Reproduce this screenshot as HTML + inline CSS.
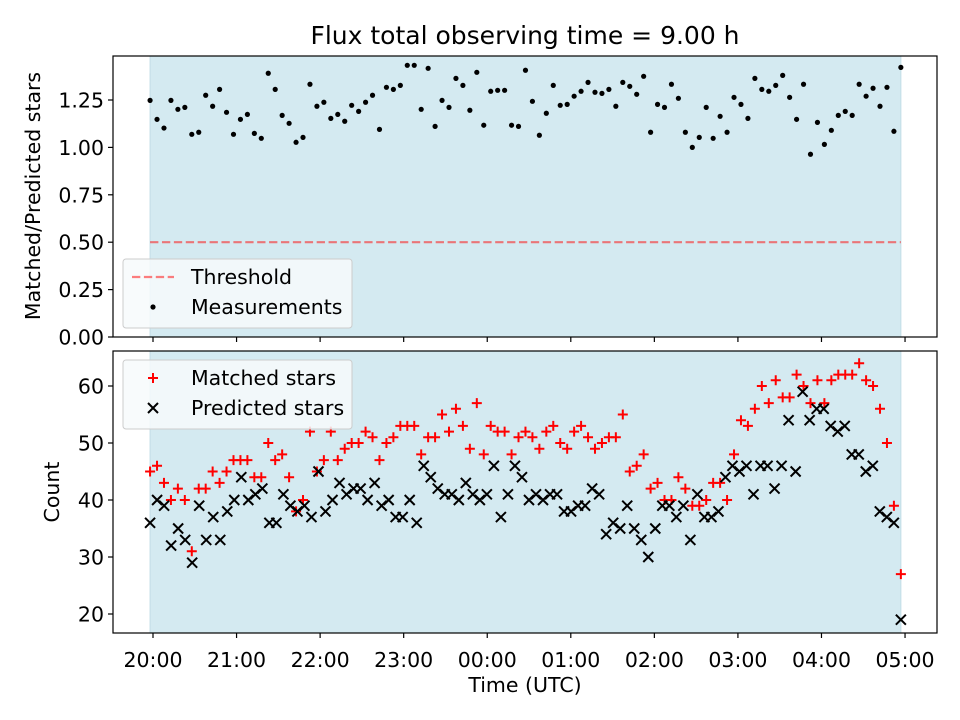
<!DOCTYPE html>
<html><head><meta charset="utf-8"><style>
body{margin:0;background:#fff;}
svg{display:block;font-family:"DejaVu Sans","Liberation Sans",sans-serif;}
</style></head><body>
<svg id="chart" width="960" height="720" viewBox="0 0 960 720">
<rect x="0" y="0" width="960" height="720" fill="#fff"/>
<g id="topPanel"></g>
<g id="botPanel"></g>
<text x="525" y="44" font-size="25" text-anchor="middle">Flux total observing time = 9.00 h</text>
<text transform="translate(40,196) rotate(-90)" font-size="20.5" text-anchor="middle">Matched/Predicted stars</text>
<text transform="translate(59,492) rotate(-90)" font-size="20.5" text-anchor="middle">Count</text>
<text x="525" y="692" font-size="20.5" text-anchor="middle">Time (UTC)</text>
</svg>
<script>
const ratioValues=[1.248,1.148,1.102,1.248,1.201,1.211,1.069,1.080,1.275,1.217,1.306,1.185,1.069,1.148,1.174,1.074,1.048,1.391,1.306,1.169,1.127,1.027,1.053,1.333,1.217,1.238,1.153,1.174,1.138,1.222,1.190,1.238,1.275,1.095,1.317,1.306,1.327,1.433,1.433,1.201,1.417,1.111,1.248,1.211,1.364,1.327,1.196,1.396,1.117,1.296,1.301,1.301,1.117,1.111,1.407,1.243,1.064,1.180,1.327,1.222,1.227,1.270,1.296,1.343,1.291,1.285,1.306,1.217,1.343,1.322,1.280,1.375,1.080,1.227,1.211,1.333,1.259,1.080,1.000,1.053,1.211,1.048,1.164,1.080,1.264,1.227,1.153,1.364,1.306,1.296,1.327,1.380,1.264,1.148,1.333,0.964,1.132,1.016,1.090,1.169,1.190,1.169,1.333,1.270,1.312,1.217,1.317,1.085,1.422];
const matchedValues=[45,46,43,40,42,40,31,42,42,45,43,45,47,47,47,44,44,50,47,48,44,38,40,52,45,47,52,47,49,50,50,52,51,47,50,51,53,53,53,48,51,51,55,52,56,53,49,57,48,53,52,52,48,51,52,51,49,52,53,50,49,52,53,51,49,50,51,51,55,45,46,48,42,43,40,40,44,42,39,39,40,43,43,40,48,54,53,56,60,57,61,58,58,62,60,57,61,57,61,62,62,62,64,61,60,56,50,39,27];
const predictedValues=[36,40,39,32,35,33,29,39,33,37,33,38,40,44,40,41,42,36,36,41,39,38,39,37,45,38,40,43,41,42,42,40,43,39,40,37,37,40,36,46,44,42,41,41,40,43,41,40,41,46,37,41,46,44,40,41,40,41,41,38,38,39,39,42,41,34,36,35,39,35,33,30,35,39,39,37,39,33,41,37,37,38,44,46,45,46,41,46,46,42,46,54,45,59,54,56,56,53,52,53,48,48,45,46,38,37,36,19];
const timeTickLabels=["20:00","21:00","22:00","23:00","00:00","01:00","02:00","03:00","04:00","05:00"];
const ratioTicks=[0,0.25,0.5,0.75,1.0,1.25];
const countTicks=[20,30,40,50,60];
const obsStartH=-0.035, obsEndH=8.95, threshold=0.5;

const NS="http://www.w3.org/2000/svg";
function mk(parent,tag,attrs){const e=document.createElementNS(NS,tag);for(const k in attrs)e.setAttribute(k,attrs[k]);parent.appendChild(e);return e;}
const X0=113,X1=937,FS=20.5;
function xs(h){return 153+h*83.56;}
function yTop(v){return 337-v*189.6;}
function yBot(v){return 614-(v-20)*5.7;}
function tOf(i,n){return obsStartH+(obsEndH-obsStartH)*i/(n-1);}

function panel(g,y0,y1,yScale,ticks,fmt,showX){
  const sh=mk(g,'rect',{x:xs(obsStartH),y:y0,width:xs(obsEndH)-xs(obsStartH),height:y1-y0,fill:'#d4eaf1',stroke:'#c2dde6'});
  
  
  ticks.forEach(v=>{const y=yScale(v);
    const t=mk(g,'line',{x1:X0-5,x2:X0,y1:y,y2:y,stroke:'#000','stroke-width':1.2});
    
    
    const l=mk(g,'text',{x:X0-9,y:y+7.5,'font-size':FS,'text-anchor':'end'});l.textContent=fmt(v);
    
    
  });
  timeTickLabels.forEach((s,i)=>{const x=xs(i);
    const t=mk(g,'line',{x1:x,x2:x,y1:y1,y2:y1+5,stroke:'#000','stroke-width':1.2});
    
    
    if(showX){const l=mk(g,'text',{x:x,y:y1+34,'font-size':FS,'text-anchor':'middle'});l.textContent=s;
      
      }
  });
}
const topG=document.getElementById('topPanel'),botG=document.getElementById('botPanel');
panel(topG,56,337,yTop,ratioTicks,v=>v.toFixed(2),false);
panel(botG,351,633,yBot,countTicks,v=>String(v),true);

const th=mk(topG,'line',{x1:xs(obsStartH),x2:xs(obsEndH),y1:yTop(threshold),y2:yTop(threshold),stroke:'red','stroke-opacity':0.5,'stroke-width':2.2,'stroke-dasharray':'8.3,3.6'});


ratioValues.forEach((v,i)=>{
  const c=mk(topG,'circle',{cx:xs(tOf(i,ratioValues.length)),cy:yTop(v),r:2.6,fill:'#000'});
  
  
});
matchedValues.forEach((v,i)=>{
  const x=xs(tOf(i,matchedValues.length)),y=yBot(v);
  const p=mk(botG,'path',{d:`M${x-5},${y}H${x+5}M${x},${y-5}V${y+5}`,stroke:'red','stroke-width':2});
  
  
});
predictedValues.forEach((v,i)=>{
  const x=xs(tOf(i,predictedValues.length)),y=yBot(v);
  const p=mk(botG,'path',{d:`M${x-5},${y-5}L${x+5},${y+5}M${x-5},${y+5}L${x+5},${y-5}`,stroke:'#000','stroke-width':2});
  
  
});
[[topG,56,337],[botG,351,633]].forEach(([g,a,b])=>{
  const f=mk(g,'rect',{x:X0,y:a,width:X1-X0,height:b-a,fill:'none',stroke:'#000','stroke-width':1.2});
  
  
});
function legend(g,y,items){
  const box=mk(g,'rect',{x:123,y:y,width:229,height:69,rx:3,fill:'#f7fafc','fill-opacity':0.85,stroke:'#ccc'});
  
  
  items.forEach((it,k)=>{
    const cy=y+18+k*30;
    it.draw(g,153,cy);
    const t=mk(g,'text',{x:191,y:cy+7,'font-size':FS});t.textContent=it.label;
    
    
  });
}
legend(topG,259,[
 {label:'Threshold',draw:(g,x,y)=>{const l=mk(g,'line',{x1:x-21,x2:x+21,y1:y,y2:y,stroke:'red','stroke-opacity':0.5,'stroke-width':2.2,'stroke-dasharray':'8.3,3.6'});}},
 {label:'Measurements',draw:(g,x,y)=>{const c=mk(g,'circle',{cx:x,cy:y,r:2.6,fill:'#000'});}}
]);
legend(botG,360,[
 {label:'Matched stars',draw:(g,x,y)=>{const p=mk(g,'path',{d:`M${x-5},${y}H${x+5}M${x},${y-5}V${y+5}`,stroke:'red','stroke-width':2});}},
 {label:'Predicted stars',draw:(g,x,y)=>{const p=mk(g,'path',{d:`M${x-5},${y-5}L${x+5},${y+5}M${x-5},${y+5}L${x+5},${y-5}`,stroke:'#000','stroke-width':2});}}
]);
</script>
</body></html>
